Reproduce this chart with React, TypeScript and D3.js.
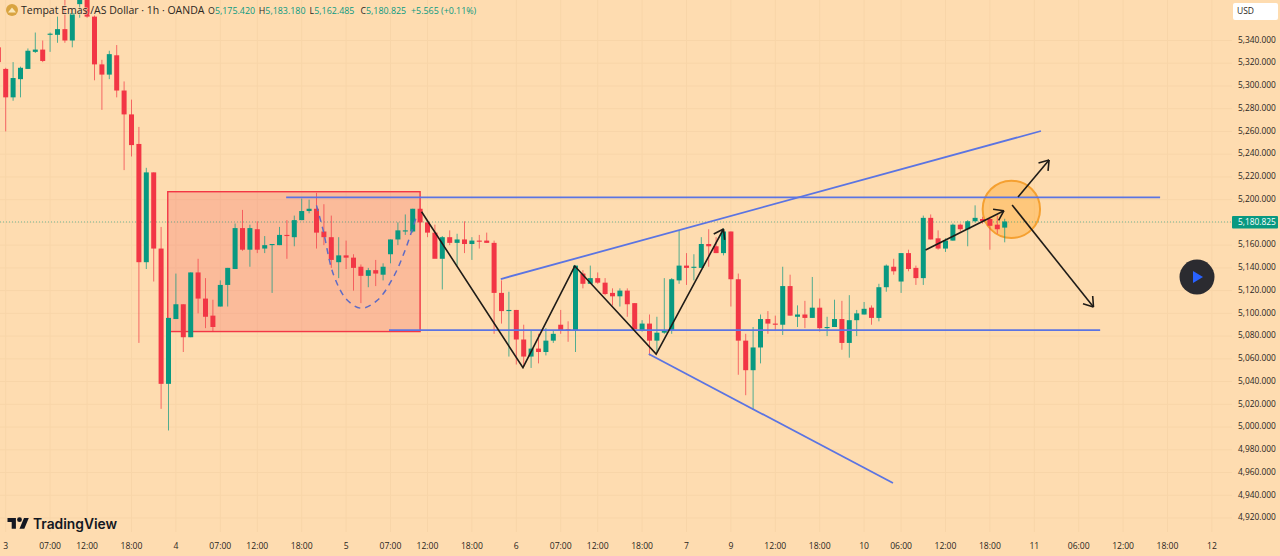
import React from 'react';
import * as d3 from 'd3';

// hourly XAU/USD candles
const opens = [
  5334,
  5315, 5290, 5306, 5315, 5330, 5332, 5345, 5345, 5350, 5340,
  5372, 5384, 5361, 5319, 5310, 5327, 5296, 5275, 5249, 5145,
  5224, 5157, 5038, 5095, 5108, 5079, 5136, 5113, 5098, 5106,
  5125, 5139, 5175, 5156, 5174, 5157, 5160, 5160, 5169, 5167,
  5182, 5190, 5192, 5172, 5167, 5145, 5151, 5149, 5141, 5133,
  5138, 5134, 5152, 5165, 5172, 5172, 5192, 5180, 5171, 5148,
  5167, 5162, 5165, 5161, 5164, 5164, 5162, 5118, 5102, 5103,
  5077, 5062, 5069, 5066, 5076, 5090, 5086, 5085, 5135, 5126,
  5131, 5127, 5118, 5115, 5120, 5109, 5085, 5091, 5076, 5083,
  5085, 5129, 5142, 5140, 5140, 5161, 5159, 5153, 5172, 5130,
  5076, 5050, 5070, 5095, 5091, 5090, 5124, 5097, 5099, 5096,
  5105, 5087, 5088, 5095, 5074, 5094, 5099, 5105, 5096, 5123,
  5141, 5128, 5153, 5140, 5131, 5184, 5166, 5157, 5164, 5178,
  5174, 5181, 5183, 5183, 5178, 5175.42,
];
const highs = [
  5340,
  5316, 5321, 5317, 5333, 5347, 5340, 5347, 5361, 5376, 5367,
  5392, 5392, 5362, 5323, 5331, 5336, 5304, 5288, 5264, 5228,
  5224, 5176, 5096, 5135, 5108, 5136, 5148, 5131, 5112, 5129,
  5140, 5179, 5191, 5178, 5181, 5168, 5161, 5176, 5182, 5186,
  5201, 5200, 5206, 5196, 5186, 5167, 5164, 5152, 5143, 5140,
  5147, 5144, 5165, 5180, 5187, 5192, 5192, 5180, 5178, 5168,
  5173, 5170, 5181, 5167, 5169, 5171, 5164, 5129, 5119, 5103,
  5090, 5085, 5082, 5087, 5085, 5103, 5093, 5142, 5138, 5142,
  5136, 5131, 5122, 5122, 5122, 5109, 5094, 5099, 5097, 5131,
  5131, 5173, 5153, 5152, 5167, 5174, 5167, 5175, 5172, 5135,
  5082, 5088, 5099, 5102, 5098, 5141, 5134, 5107, 5111, 5132,
  5113, 5097, 5112, 5111, 5116, 5103, 5110, 5107, 5126, 5143,
  5148, 5153, 5156, 5142, 5186, 5187, 5173, 5166, 5179, 5179,
  5182, 5195, 5185, 5185, 5186, 5183.18,
];
const lows = [
  5314,
  5260, 5287, 5290, 5315, 5329, 5321, 5330, 5338, 5338, 5334,
  5360, 5360, 5305, 5279, 5306, 5290, 5226, 5238, 5074, 5139,
  5128, 5016, 4997, 5095, 5066, 5079, 5100, 5087, 5084, 5106,
  5106, 5139, 5155, 5141, 5153, 5153, 5118, 5160, 5148, 5159,
  5182, 5188, 5157, 5160, 5140, 5131, 5139, 5120, 5109, 5123,
  5124, 5129, 5144, 5160, 5169, 5171, 5180, 5167, 5149, 5121,
  5160, 5142, 5153, 5147, 5157, 5162, 5082, 5091, 5062, 5055,
  5053, 5052, 5056, 5063, 5074, 5082, 5075, 5066, 5122, 5126,
  5126, 5116, 5107, 5106, 5097, 5086, 5084, 5063, 5066, 5082,
  5082, 5126, 5125, 5129, 5140, 5141, 5153, 5151, 5106, 5046,
  5028, 5015, 5056, 5082, 5085, 5081, 5098, 5088, 5087, 5096,
  5084, 5080, 5088, 5068, 5061, 5080, 5099, 5090, 5093, 5119,
  5134, 5118, 5137, 5125, 5125, 5165, 5156, 5154, 5164, 5172,
  5159, 5180, 5179, 5156, 5170, 5162.485,
];
const closes = [
  5321,
  5290, 5307, 5316, 5331, 5332, 5322, 5346, 5350, 5340, 5364,
  5385, 5361, 5319, 5310, 5328, 5296, 5275, 5248, 5145, 5224,
  5157, 5038, 5096, 5108, 5079, 5136, 5113, 5097, 5088, 5125,
  5140, 5175, 5156, 5175, 5156, 5160, 5161, 5169, 5168, 5182,
  5190, 5192, 5171, 5167, 5147, 5151, 5149, 5140, 5133, 5138,
  5135, 5141, 5165, 5173, 5173, 5192, 5180, 5171, 5148, 5167,
  5162, 5165, 5161, 5164, 5163, 5162, 5118, 5102, 5103, 5077,
  5062, 5069, 5066, 5076, 5082, 5085, 5085, 5142, 5126, 5131,
  5127, 5117, 5115, 5120, 5108, 5086, 5091, 5076, 5083, 5085,
  5130, 5142, 5140, 5141, 5161, 5159, 5153, 5172, 5130, 5076,
  5050, 5070, 5095, 5091, 5090, 5124, 5098, 5099, 5096, 5105,
  5087, 5088, 5095, 5074, 5094, 5100, 5104, 5096, 5123, 5142,
  5137, 5153, 5139, 5131, 5184, 5165, 5157, 5164, 5178, 5174,
  5181, 5184, 5181, 5177, 5174, 5180.825,
];

// bar index / label pairs for the time axis
const timeBars = [1, 7, 12, 18, 24, 30, 35, 41, 47, 53, 58, 64, 70, 76, 81, 87, 93, 99, 105, 111, 117, 122, 128, 134, 140, 146, 152, 158, 164];
const timeLabels = ['3', '07:00', '12:00', '18:00', '4', '07:00', '12:00', '18:00', '5', '07:00', '12:00', '18:00', '6', '07:00', '12:00', '18:00', '7', '9', '12:00', '18:00', '10', '06:00', '12:00', '18:00', '11', '06:00', '12:00', '18:00', '12'];
const priceTicks = d3.range(4920, 5341, 20);
const lastPrice = 5180.825;

// legend readout
const ohlcLabels = ['O', 'H', 'L', 'C'];
const ohlcValues = ['5,175.420', '5,183.180', '5,162.485', '5,180.825'];
const changeLabel = '+5.565 (+0.11%)';

// drawings, as [bar, price]
const zoneBox = [[22.9, 5207], [57, 5084]];
const resistance = [[38.9, 5202], [157, 5202]];
const support = [[52.8, 5085.3], [148.9, 5085.3]];
const upperWedge = [[67.9, 5130.2], [140.9, 5260.4]];
const lowerWedge = [[87.9, 5064.2], [120.9, 4950.8]];
const zigzag = [[57.2, 5189.4], [70.9, 5052.2], [77.9, 5141.6], [88.9, 5064.2], [98, 5174.2]];
const shortArrow = [[125.3, 5155.7], [135.9, 5190.3]];
const upArrow = [[137.8, 5202.3], [142, 5234.9]];
const downArrow = [[137, 5195.3], [148, 5105.6]];
const cupCurve = [[43, 5195], [43.9, 5173], [45.3, 5134], [47.1, 5112], [49.1, 5104.5], [51.3, 5112], [53.4, 5132], [55, 5156], [56.5, 5185]];
const focusCircle = [136.9, 5191.5];

const WIDTH = 1280;
const HEIGHT = 556;
const BG = '#fedcb0';
const GRID = '#f8d5a8';
const UP = '#089981';
const DOWN = '#f23645';
const BLUE = '#5b74e2';
const INK = '#1f1c18';
const FONT = '"Open Sans", "Noto Sans", sans-serif';

const x = d3.scaleLinear().domain([0, 100]).range([-1.7, 738.3]);
const y = d3.scaleLinear().domain([5340, 4920]).range([40.5, 518]);

const pointLine = d3.line<number[]>().x(d => x(d[0])).y(d => y(d[1]));
const cupLine = d3.line<number[]>().x(d => x(d[0])).y(d => y(d[1])).curve(d3.curveCatmullRom);
const priceFmt = d3.format(',.3f');

function arrowHead(pts: number[][], len: number) {
  const [a, b] = pts;
  const tx = x(b[0]);
  const ty = y(b[1]);
  const ang = Math.atan2(ty - y(a[1]), tx - x(a[0]));
  const wing = (off: number) => `L${tx - len * Math.cos(ang + off)},${ty - len * Math.sin(ang + off)}`;
  return `M${tx},${ty}${wing(0.6)}M${tx},${ty}${wing(-0.6)}`;
}

function Arrow({ pts }: { pts: number[][] }) {
  return (
    <g stroke={INK} strokeWidth={1.6} fill="none">
      <path d={pointLine(pts) || ''} />
      <path d={arrowHead(pts, 11)} />
    </g>
  );
}

const App: React.FC = () => {
  const bars = opens.map((o, i) => ({ i, o, h: highs[i], l: lows[i], c: closes[i] }));
  const halo = { paintOrder: 'stroke' as const };

  return (
    <svg width={WIDTH} height={HEIGHT} style={{ position: 'fixed', left: 0, top: 0, background: BG }} fontFamily={FONT}>
      <defs>
        <clipPath id="plot">
          <rect x={0} y={0} width={1232} height={532} />
        </clipPath>
      </defs>

      <g stroke={GRID} strokeWidth={1}>
        {priceTicks.map(p => <line key={p} x1={0} x2={1232} y1={y(p)} y2={y(p)} />)}
        {timeBars.map(b => <line key={b} x1={x(b)} x2={x(b)} y1={0} y2={532} />)}
      </g>

      <g clipPath="url(#plot)">
        <rect
          x={x(zoneBox[0][0])}
          y={y(zoneBox[0][1])}
          width={x(zoneBox[1][0]) - x(zoneBox[0][0])}
          height={y(zoneBox[1][1]) - y(zoneBox[0][1])}
          fill="#f23645"
          fillOpacity={0.2}
          stroke="#f23645"
          strokeWidth={1.4}
        />

        <circle cx={x(focusCircle[0])} cy={y(focusCircle[1])} r={28.7} fill="#ff9800" fillOpacity={0.3} stroke="#f5a030" strokeWidth={2} />

        <line x1={0} x2={1232} y1={y(lastPrice) + 0.5} y2={y(lastPrice) + 0.5} stroke={UP} strokeOpacity={0.55} strokeDasharray="1 2" />

        {bars.map(d => {
          const col = d.c >= d.o ? UP : DOWN;
          const top = y(Math.max(d.o, d.c));
          const bot = y(Math.min(d.o, d.c));
          return (
            <g key={d.i}>
              <line x1={x(d.i)} x2={x(d.i)} y1={y(d.h)} y2={y(d.l)} stroke={col} strokeOpacity={0.7} />
              <rect x={x(d.i) - 2.5} y={top} width={5} height={Math.max(bot - top, 1)} fill={col} />
            </g>
          );
        })}

        <g fill="none" stroke={BLUE} strokeWidth={1.8}>
          <path d={pointLine(resistance) || ''} />
          <path d={pointLine(support) || ''} />
          <path d={pointLine(upperWedge) || ''} />
          <path d={pointLine(lowerWedge) || ''} />
        </g>
        <path d={cupLine(cupCurve) || ''} fill="none" stroke="#5f6bc4" strokeWidth={1.5} strokeDasharray="6 5" />

        <path d={pointLine(zigzag) || ''} fill="none" stroke={INK} strokeWidth={1.6} />
        <path d={arrowHead(zigzag.slice(-2), 11)} fill="none" stroke={INK} strokeWidth={1.6} />
        <Arrow pts={shortArrow} />
        <Arrow pts={upArrow} />
        <Arrow pts={downArrow} />
      </g>

      {/* price axis */}
      <g fontSize={8.4} fill="#2a2622">
        {priceTicks.map(p => (
          <text key={p} x={1238} y={y(p)} dominantBaseline="middle">{priceFmt(p)}</text>
        ))}
      </g>
      <rect x={1233} y={3} width={45} height={17} rx={2} fill="#fff" />
      <text x={1237} y={12} fontSize={8.5} fill="#2a2622" dominantBaseline="middle">USD</text>
      <rect x={1232} y={216} width={46} height={12.5} rx={1} fill={UP} />
      <text x={1238} y={222.5} fontSize={8.4} fill="#fff" dominantBaseline="middle">{priceFmt(lastPrice)}</text>

      {/* time axis */}
      <g fontSize={8.6} fill="#2a2622" textAnchor="middle">
        {timeBars.map((b, i) => (
          <text key={b} x={x(b)} y={549}>{timeLabels[i]}</text>
        ))}
      </g>

      {/* legend */}
      <circle cx={12} cy={10} r={6} fill="#d9a441" />
      <path d="M8,12.5 L12,7.5 L16,12.5 Z" fill="#fbe7b8" />
      <text x={21} y={14} fontSize={10.5} fill="#2a2622" style={halo} stroke={BG} strokeOpacity={0.6} strokeWidth={2}>
        Tempat Emas /AS Dollar · 1h · OANDA
      </text>
      <g fontSize={8.9} style={halo} stroke={BG} strokeOpacity={0.6} strokeWidth={2}>
        {ohlcLabels.map((label, i) => (
          <text key={label} x={208 + i * 50.8} y={14} fill={UP}>
            <tspan fill="#2a2622">{label}</tspan>{ohlcValues[i]}
          </text>
        ))}
        <text x={411} y={14} fill={UP}>{changeLabel}</text>
      </g>

      {/* play button */}
      <circle cx={1197} cy={277} r={17.5} fill="#2b2b30" />
      <path d="M1193,271 L1203,277 L1193,283 Z" fill="#2962ff" />

      {/* logo */}
      <g transform="translate(7.5,515.5) scale(0.6)" fill="#131722">
        <path d="M14 22H7V11H0V4h14v18zM28 22h-8l7.5-18h8L28 22z" />
        <circle cx={20} cy={7} r={4} />
      </g>
      <text x={33} y={529} fontFamily="Inter, Roboto, sans-serif" fontWeight={600} fontSize={13.8} fill="#131722">TradingView</text>
    </svg>
  );
};

export default App;
